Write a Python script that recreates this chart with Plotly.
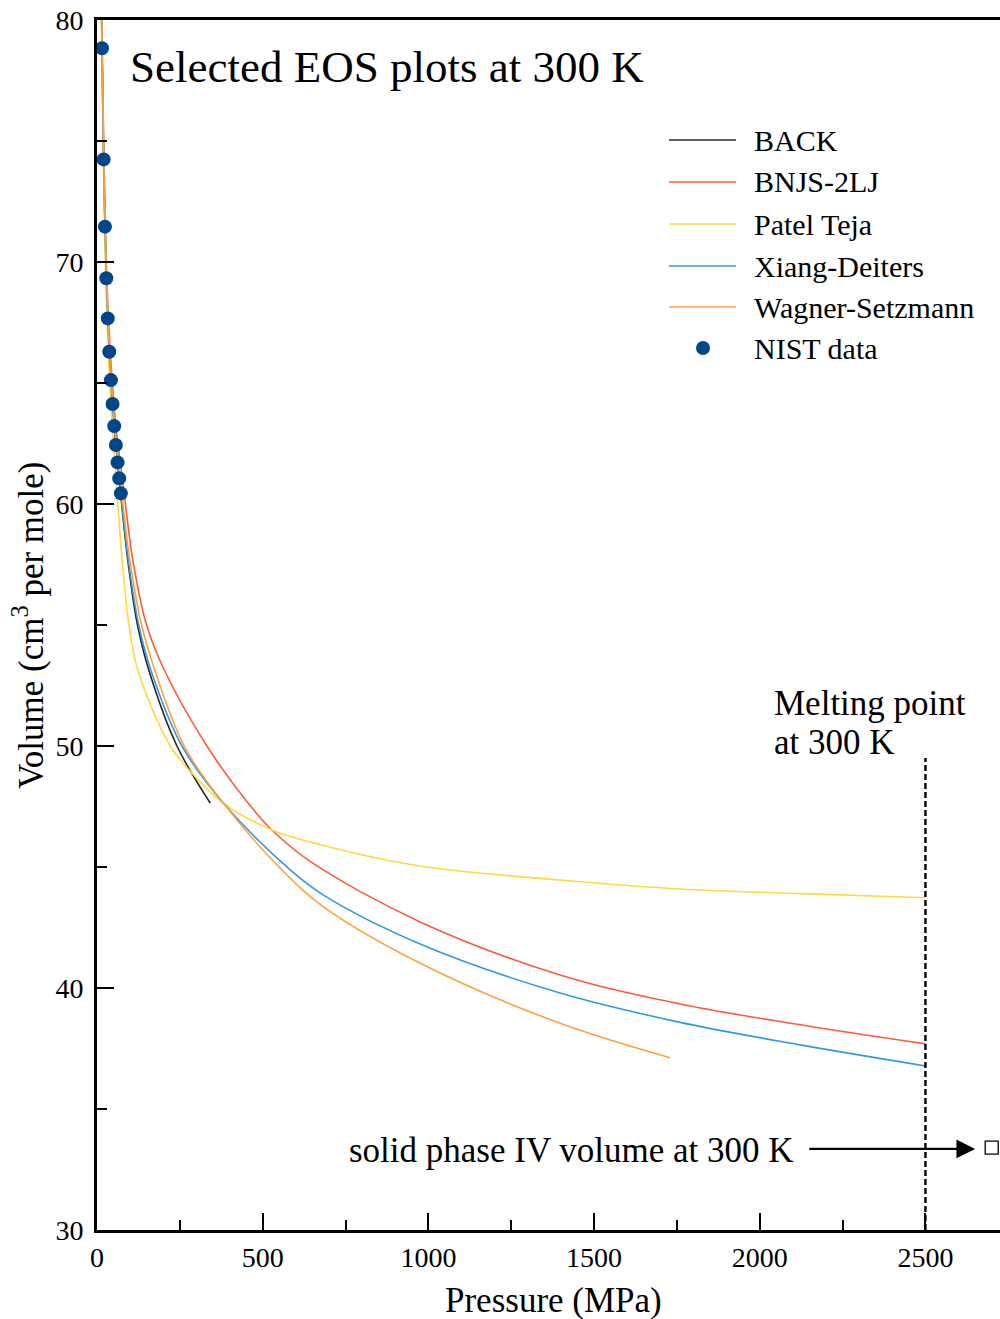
import plotly.graph_objects as go

# ---- data: molar volume (cm^3/mol) vs pressure (MPa) at 300 K ----
nist_p = [15, 20, 24, 28, 32.5, 37, 42, 47, 52, 57, 62, 67, 72]
nist_v = [78.83, 74.24, 71.46, 69.33, 67.67, 66.29, 65.12, 64.13, 63.22, 62.44, 61.72, 61.06, 60.44]

back_p = [13.2, 14.1, 15.1, 20.0, 28.0, 37.0, 52.0, 62.0, 74.2, 92.9, 121.6, 156.3, 241.3, 341.8]
back_v = [82.0, 80.0, 78.84, 74.26, 69.34, 66.32, 63.22, 61.74, 60.04, 57.69, 55.04, 53.14, 50.0, 47.64]

bnjs_p = [13.8, 14.8, 16.0, 21.2, 29.5, 40.0, 57.0, 70.0, 85.4, 108.0, 148.7, 203.0, 331.8, 456.4,
          527.9, 643.4, 975.3, 1397.6, 1759.6, 2126.7, 2500.0]
bnjs_v = [82.0, 80.0, 78.84, 74.26, 69.34, 66.32, 63.22, 61.74, 60.04, 57.69, 55.04, 53.14, 50.0, 47.63,
          46.53, 45.23, 42.73, 40.54, 39.34, 38.47, 37.69]

patel_p = [12.6, 13.5, 14.5, 19.2, 26.5, 34.0, 46.0, 54.0, 62.7, 75.7, 95.9, 123.1, 221.1, 296.5,
           381.9, 527.9, 683.6, 975.3, 1397.6, 1759.6, 2126.7, 2500.0]
patel_v = [82.0, 80.0, 78.84, 74.26, 69.34, 66.32, 63.22, 61.74, 60.04, 57.69, 55.04, 53.14, 50.0, 48.73,
           47.63, 46.53, 45.89, 45.04, 44.46, 44.09, 43.90, 43.73]

xiang_p = [13.2, 14.1, 15.1, 20.0, 28.0, 37.0, 52.0, 62.0, 75.1, 94.4, 125.2, 162.3, 256.4, 381.9,
           583.1, 683.6, 975.3, 1397.6, 1759.6, 2126.7, 2500.0]
xiang_v = [82.0, 80.0, 78.84, 74.26, 69.34, 66.32, 63.22, 61.74, 60.04, 57.69, 55.04, 53.14, 50.0, 47.63,
           44.88, 43.84, 41.82, 39.79, 38.58, 37.64, 36.78]

wagner_p = [13.6, 14.5, 15.5, 20.5, 28.7, 38.0, 53.5, 64.0, 77.8, 99.0, 133.6, 174.4, 263.3, 381.9,
            558.1, 683.6, 975.3, 1397.6, 1729.4]
wagner_v = [82.0, 80.0, 78.84, 74.26, 69.34, 66.32, 63.22, 61.74, 60.04, 57.69, 55.04, 53.14, 50.0, 47.63,
            44.88, 43.35, 41.02, 38.54, 37.12]

solid_p = [2700]
solid_v = [33.4]

melt_p = 2500
melt_v_top = 49.5

series_names = ["BACK", "BNJS-2LJ", "Patel Teja", "Xiang-Deiters", "Wagner-Setzmann"]
series_colors = ["#262626", "#FF5B3A", "#FFD93D", "#2E9AE0", "#FFA23A"]
nist_color = "#00468C"

x_ticks = [0, 500, 1000, 1500, 2000, 2500]
y_ticks = [30, 40, 50, 60, 70, 80]

FONT = "Liberation Serif"

# ---- geometry of the plotting area (pixels) ----
W, H = 1000, 1319
L, R, T, B = 97, 0, 20, 89
PW, PH = W - L - R, H - T - B


def px(x):
    return (x - L) / PW


def py(y):
    return (H - B - y) / PH


fig = go.Figure()

curves = [(back_p, back_v), (bnjs_p, bnjs_v), (patel_p, patel_v), (xiang_p, xiang_v), (wagner_p, wagner_v)]
for (p, v), name, col in zip(curves, series_names, series_colors):
    fig.add_trace(go.Scatter(x=p, y=v, mode="lines", name=name, showlegend=False,
                             line=dict(color=col, width=1.6, shape="spline", smoothing=1.0)))

fig.add_trace(go.Scatter(x=nist_p, y=nist_v, mode="markers", name="NIST data", showlegend=False,
                         marker=dict(color=nist_color, size=14, line=dict(width=0))))

# melting line at 300 K
fig.add_trace(go.Scatter(x=[melt_p, melt_p], y=[y_ticks[0], melt_v_top], mode="lines", showlegend=False,
                         line=dict(color="black", width=2.4, dash="6px,3px")))

# solid phase IV volume
fig.add_trace(go.Scatter(x=solid_p, y=solid_v, mode="markers", showlegend=False, cliponaxis=False,
                         marker=dict(symbol="square-open", size=13, color="black", line=dict(width=1.3))))

shapes = []
annotations = []

# legend
legend_rows = [140, 182, 224, 266, 307]
for yrow, name, col in zip(legend_rows, series_names, series_colors):
    shapes.append(dict(type="line", xref="paper", yref="paper", x0=px(669), x1=px(736),
                       y0=py(yrow), y1=py(yrow), line=dict(color=col, width=1.6)))
    annotations.append(dict(xref="paper", yref="paper", x=px(752), y=py(yrow), text=name,
                            showarrow=False, xanchor="left", yanchor="middle",
                            font=dict(family=FONT, size=30, color="black")))
shapes.append(dict(type="circle", xref="paper", yref="paper", x0=px(696), x1=px(710),
                   y0=py(355), y1=py(341), fillcolor=nist_color, line=dict(width=0)))
annotations.append(dict(xref="paper", yref="paper", x=px(752), y=py(348), text="NIST data",
                        showarrow=False, xanchor="left", yanchor="middle",
                        font=dict(family=FONT, size=30, color="black")))

# title
annotations.append(dict(xref="paper", yref="paper", x=px(128), y=py(67), text="Selected EOS plots at 300 K",
                        showarrow=False, xanchor="left", yanchor="middle",
                        font=dict(family=FONT, size=45, color="black")))

# melting point label
annotations.append(dict(xref="paper", yref="paper", x=px(772), y=py(703), text="Melting point",
                        showarrow=False, xanchor="left", yanchor="middle",
                        font=dict(family=FONT, size=35, color="black")))
annotations.append(dict(xref="paper", yref="paper", x=px(772), y=py(742), text="at 300 K",
                        showarrow=False, xanchor="left", yanchor="middle",
                        font=dict(family=FONT, size=35, color="black")))

# solid phase label and arrow
annotations.append(dict(xref="paper", yref="paper", x=px(796), y=py(1150), text="solid phase IV volume at 300 K",
                        showarrow=False, xanchor="right", yanchor="middle",
                        font=dict(family=FONT, size=35, color="black")))
annotations.append(dict(x=solid_p[0] - 50, y=solid_v[0] - 0.05, ax=2145, ay=solid_v[0] - 0.05,
                        xref="x", yref="y", axref="x", ayref="y", text="", showarrow=True,
                        arrowhead=2, arrowsize=1.7, arrowwidth=2.2, arrowcolor="black"))

# axis titles
annotations.append(dict(xref="paper", yref="paper", x=px(553), y=py(1300), text="Pressure (MPa)",
                        showarrow=False, xanchor="center", yanchor="middle",
                        font=dict(family=FONT, size=35, color="black")))
annotations.append(dict(xref="paper", yref="paper", x=px(28), y=py(625),
                        text="Volume (cm<sup>3</sup> per mole)", textangle=-90,
                        showarrow=False, xanchor="center", yanchor="middle",
                        font=dict(family=FONT, size=35, color="black")))

fig.update_layout(
    width=W, height=H,
    margin=dict(l=L, r=R, t=T, b=B),
    paper_bgcolor="white", plot_bgcolor="white",
    showlegend=False,
    shapes=shapes, annotations=annotations,
    font=dict(family=FONT, color="black"),
)

fig.update_xaxes(range=[0, 2725], tickvals=x_ticks, ticktext=[str(t) for t in x_ticks],
                 ticks="inside", ticklen=17, tickwidth=2.4, tickcolor="black",
                 minor=dict(tickvals=[250, 750, 1250, 1750, 2250], ticks="inside", ticklen=10,
                            tickwidth=2, tickcolor="black", showgrid=False),
                 showline=True, linecolor="black", linewidth=2.6, mirror=True,
                 showgrid=False, zeroline=False,
                 tickfont=dict(family=FONT, size=28, color="black"), ticklabelstandoff=1)
fig.update_yaxes(range=[30, 80], tickvals=y_ticks, ticktext=[str(t) for t in y_ticks],
                 ticks="inside", ticklen=17, tickwidth=2.4, tickcolor="black",
                 minor=dict(tickvals=[35, 45, 55, 65, 75], ticks="inside", ticklen=10,
                            tickwidth=2, tickcolor="black", showgrid=False),
                 showline=True, linecolor="black", linewidth=2.6, mirror=False,
                 showgrid=False, zeroline=False,
                 tickfont=dict(family=FONT, size=28, color="black"), ticklabelstandoff=5)

fig.write_html("out.html")
